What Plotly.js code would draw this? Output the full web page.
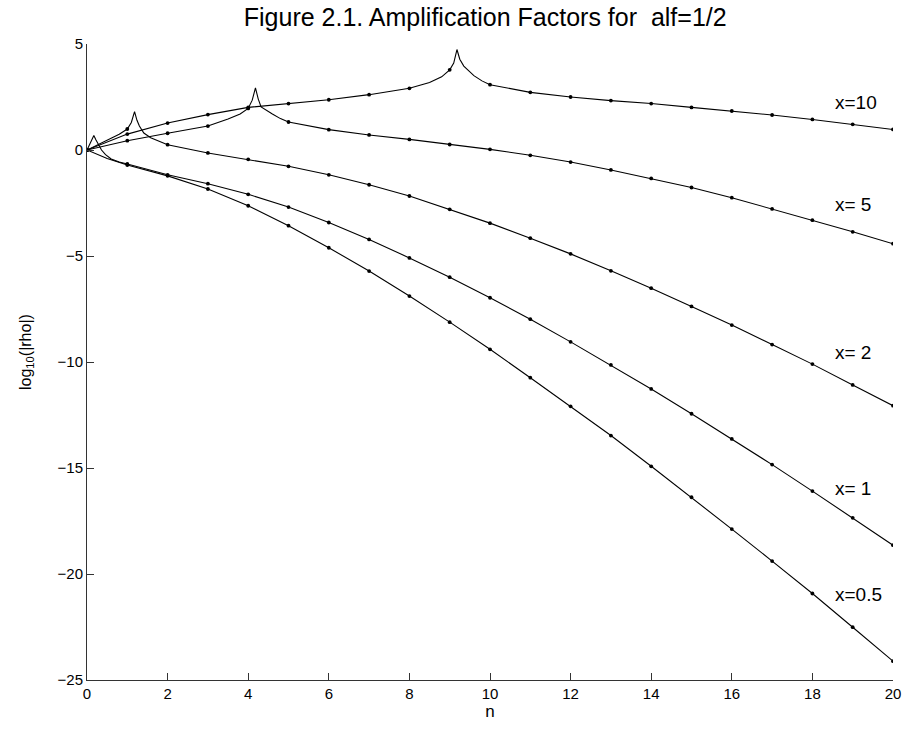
<!DOCTYPE html>
<html>
<head>
<meta charset="utf-8">
<script src="https://cdn.plot.ly/plotly-3.0.1.min.js"></script>
<style>html,body{margin:0;padding:0;background:#fff}#chart{width:907px;height:729px}</style>
</head>
<body>
<div id="chart"></div>
<script>
// integer steps n (dots)
var nDots = [0,1,2,3,4,5,6,7,8,9,10,11,12,13,14,15,16,17,18,19,20];

// log10(|rho|) at the dots
var x10Dots = [0,0.75,1.27,1.67,2.01,2.19,2.37,2.61,2.91,3.78,3.08,2.72,2.50,2.33,2.19,2.01,1.84,1.65,1.44,1.21,0.97];
var x5Dots  = [0,0.44,0.79,1.13,1.96,1.32,0.96,0.71,0.50,0.26,0.03,-0.25,-0.57,-0.94,-1.34,-1.77,-2.25,-2.78,-3.31,-3.86,-4.42];
var x2Dots  = [0,0.99,0.25,-0.14,-0.44,-0.77,-1.17,-1.64,-2.17,-2.80,-3.45,-4.16,-4.90,-5.70,-6.52,-7.38,-8.26,-9.18,-10.10,-11.08,-12.06];
var x1Dots  = [0,-0.66,-1.17,-1.59,-2.09,-2.69,-3.42,-4.22,-5.09,-6.00,-6.97,-7.98,-9.05,-10.14,-11.27,-12.44,-13.63,-14.84,-16.09,-17.35,-18.64];
var x05Dots = [0,-0.71,-1.22,-1.84,-2.63,-3.57,-4.61,-5.71,-6.89,-8.12,-9.40,-10.74,-12.09,-13.47,-14.92,-16.38,-17.88,-19.39,-20.92,-22.51,-24.11];

// extra points of the continuous curves (cusps)
var x10ExtraN = [8.5,8.8,9.1,9.18,9.25,9.35,9.5,9.6,9.8];
var x10ExtraV = [3.18,3.45,4.10,4.74,4.28,3.96,3.68,3.51,3.26];
var x5ExtraN  = [3.5,3.8,4.1,4.18,4.25,4.32,4.45,4.6,4.8];
var x5ExtraV  = [1.46,1.70,2.35,2.93,2.40,2.03,1.86,1.70,1.48];
var x2ExtraN  = [0.5,0.8,1.1,1.18,1.24,1.3,1.41,1.58,1.79];
var x2ExtraV  = [0.45,0.74,1.30,1.81,1.40,1.13,0.80,0.58,0.41];
var x1ExtraN  = [0.1,0.17,0.22,0.27,0.36,0.46,0.6,0.8];
var x1ExtraV  = [0.38,0.68,0.48,0.32,0.0,-0.22,-0.42,-0.57];
var x05ExtraN = [0.5];
var x05ExtraV = [-0.40];

var curveLabels = ['x=10','x= 5','x= 2','x= 1','x=0.5'];
var labelN = [18.5,18.5,18.5,18.5,18.5];
var labelV = [2.25,-2.57,-9.56,-15.96,-20.96];

function merge(n1, v1, n2, v2){
  var pts = [];
  for (var i=0;i<n1.length;i++) pts.push([n1[i], v1[i]]);
  for (var j=0;j<n2.length;j++) pts.push([n2[j], v2[j]]);
  pts.sort(function(a,b){return a[0]-b[0];});
  return {x: pts.map(function(p){return p[0];}), y: pts.map(function(p){return p[1];})};
}

var sets = [
  [x10Dots, x10ExtraN, x10ExtraV],
  [x5Dots, x5ExtraN, x5ExtraV],
  [x2Dots, x2ExtraN, x2ExtraV],
  [x1Dots, x1ExtraN, x1ExtraV],
  [x05Dots, x05ExtraN, x05ExtraV]
];

var traces = [];
sets.forEach(function(s, k){
  var m = merge(nDots, s[0], s[1], s[2]);
  traces.push({x: m.x, y: m.y, mode: 'lines', type: 'scatter',
    line: {color: '#000', width: 1.1}, hoverinfo: 'skip', showlegend: false, name: curveLabels[k]});
  traces.push({x: nDots, y: s[0], mode: 'markers', type: 'scatter',
    marker: {color: '#000', size: 3.8}, showlegend: false, name: curveLabels[k]});
});

var FONT = 'Liberation Sans, Arial, sans-serif';
var annotations = curveLabels.map(function(t, i){
  return {x: labelN[i], y: labelV[i], xref: 'x', yref: 'y', text: t, showarrow: false,
    xanchor: 'left', yanchor: 'middle', font: {family: FONT, size: 19, color: '#000'}};
});
// y-axis title, placed where the reference has it
annotations.push({xref: 'paper', yref: 'paper', x: -0.075, y: 0.515, text: 'log<sub>10</sub>(|rho|)',
  textangle: -90, showarrow: false, xanchor: 'center', yanchor: 'middle',
  font: {family: FONT, size: 16, color: '#000'}});

var layout = {
  width: 907, height: 729,
  margin: {l: 87, r: 14, t: 44, b: 49},
  paper_bgcolor: '#fff', plot_bgcolor: '#fff',
  font: {family: FONT, color: '#000', size: 15},
  title: {text: 'Figure 2.1. Amplification Factors for \u00a0alf=1/2',
    font: {family: FONT, size: 25, color: '#000'},
    x: 0.535, xanchor: 'center', y: 0.976, yanchor: 'middle', yref: 'container'},
  xaxis: {range: [0, 20], tickvals: [0,2,4,6,8,10,12,14,16,18,20], ticks: 'inside', ticklen: 7,
    tickcolor: '#333', showline: true, linecolor: '#333', linewidth: 1, showgrid: false, zeroline: false,
    tickfont: {size: 15}, title: {text: 'n', font: {size: 17}, standoff: 3}},
  yaxis: {range: [-25, 5], tickvals: [-25,-20,-15,-10,-5,0,5], ticks: 'inside', ticklen: 7,
    tickcolor: '#333', showline: true, linecolor: '#333', linewidth: 1, showgrid: false, zeroline: false,
    tickfont: {size: 15}},
  annotations: annotations
};

Plotly.newPlot('chart', traces, layout, {displayModeBar: false, staticPlot: true});
</script>
</body>
</html>
